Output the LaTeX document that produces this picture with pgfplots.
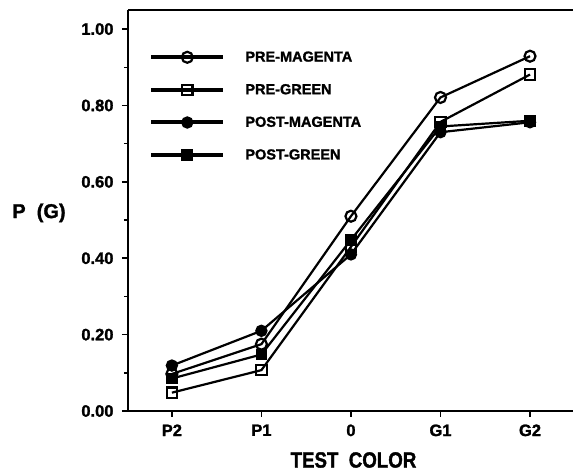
\documentclass[border=0pt]{standalone}
\usepackage{fontspec}
\setmainfont{Liberation Sans}[BoldFeatures={FakeBold=1.5}]
\newfontfamily\condfont{Liberation Sans}[FakeStretch=0.85, BoldFeatures={FakeBold=1.5}]
\usepackage{pgfplots}
\pgfplotsset{compat=1.18}
\usetikzlibrary{calc}
\begin{document}
\begin{tikzpicture}
\begin{axis}[
  name=ax,
  scale only axis, width=445bp, height=401bp,
  xmin=-0.49, xmax=4.48, ymin=0, ymax=1.05,
  axis lines*=left, axis line style={line width=1.8bp},
  tick align=outside, major tick length=6bp, minor tick length=4bp,
  tick style={line width=1.5bp, black},
  xtick={0,1,2,3,4}, xticklabels={P2,P1,0,G1,G2},
  ytick={0,0.2,0.4,0.6,0.8,1.0}, minor ytick={0.1,0.3,0.5,0.7,0.9},
  yticklabel style={xshift=-5bp, /pgf/number format/.cd, fixed, fixed zerofill, precision=2, assume math mode=true},
  ticklabel style={font=\fontsize{16.5bp}{18bp}\selectfont\bfseries},
  xticklabel style={yshift=-4bp},
  every axis x label/.style={at={(axis description cs:0.5,0)}, anchor=center, yshift=-49bp, xshift=3bp},
  every axis y label/.style={at={(axis description cs:0,0.494)}, anchor=center, xshift=-89bp},
  xlabel={\condfont\fontsize{22bp}{24bp}\selectfont\bfseries TEST\ \ COLOR},
  ylabel={\fontsize{20bp}{22bp}\selectfont\bfseries P\ \ (G)},
  every axis plot/.append style={black, line width=2.2bp, mark options={solid, line width=1.4bp}},
  legend cell align=left,
  legend style={at={(axis description cs:0.045,0.907)}, anchor=north west, draw=none, fill=none,
    font=\fontsize{14.5bp}{16bp}\selectfont\bfseries, row sep=17bp,
    /tikz/every odd column/.append style={column sep=20bp}},
  legend image code/.code={
    \fill[black] (0bp,-0.9bp) rectangle (70bp,0.9bp);
    \draw[mark repeat=2, mark phase=2] plot coordinates {(0bp,0bp) (35bp,0bp) (70bp,0bp)};},
]
\addplot[mark=o, mark size=5.5bp, mark options={fill=white}] coordinates {(0,0.097) (1,0.175) (2,0.51) (3,0.821) (4,0.929)};
\addlegendentry{PRE-MAGENTA}
\addplot[mark=square, mark size=5.2bp, mark options={fill=white}] coordinates {(0,0.048) (1,0.107) (2,0.43) (3,0.757) (4,0.881)};
\addlegendentry{PRE-GREEN}
\addplot[mark=*, mark size=5.5bp] coordinates {(0,0.119) (1,0.21) (2,0.41) (3,0.73) (4,0.756)};
\addlegendentry{POST-MAGENTA}
\addplot[mark=square*, mark size=5.2bp] coordinates {(0,0.085) (1,0.148) (2,0.448) (3,0.745) (4,0.76)};
\addlegendentry{POST-GREEN}
\draw[line width=1.8bp] (rel axis cs:0,1) -- (rel axis cs:1,1);
\end{axis}
\pgfresetboundingbox
\useasboundingbox ($(ax.south west)+(-128bp,-61bp)$) rectangle ($(ax.north east)+(0bp,10bp)$);
\end{tikzpicture}
\end{document}
